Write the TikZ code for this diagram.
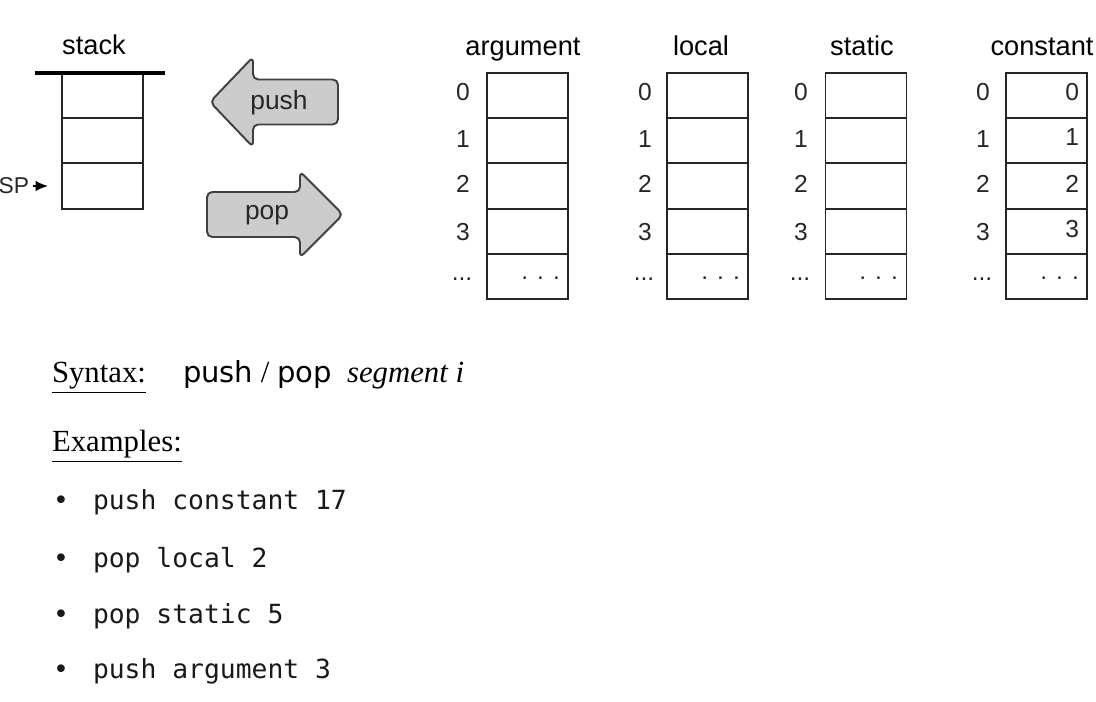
\documentclass[tikz,border=0pt]{standalone}
\usepackage{fontspec}
\setmainfont{Liberation Serif}
\setsansfont{Liberation Sans}
\setmonofont{DejaVu Sans Mono}
\newfontfamily\wordfont{DejaVu Sans}
\usetikzlibrary{arrows.meta}

\begin{document}
\begin{tikzpicture}[x=0.02cm, y=-0.02cm]
\tikzstyle{every node} = [inner sep=0pt, outer sep=0pt]
\tikzstyle{cell} = [draw=black!85, line width=1.1pt, minimum width=1.62cm, minimum height=0.904cm]
\tikzstyle{title} = [font=\sffamily\fontsize{15.5}{18}\selectfont, anchor=base]
\tikzstyle{idx} = [font=\sffamily\fontsize{14}{16}\selectfont, text=black!85]
\tikzstyle{val} = [font=\sffamily\fontsize{14}{16}\selectfont, text=black!85, anchor=east]
\tikzstyle{arrowbox} = [draw=black!75, fill=black!20, line width=1.1pt, rounded corners=3pt]
\tikzstyle{arrowtext} = [font=\sffamily\fontsize{15}{18}\selectfont, text=black!85, anchor=base]
\tikzstyle{code} = [font=\ttfamily\fontsize{15}{18}\selectfont, text=black!90, anchor=base west]
\tikzstyle{head} = [font=\fontsize{17.5}{21}\selectfont, anchor=base west]
\useasboundingbox (0,0) rectangle (1096,702);

\node[title] (tstack) at (94,55) {stack};
\node[cell] (s1) at (102.5,95.6) {};
\node[cell] (s2) at (102.5,140.8) {};
\node[cell] (s3) at (102.5,186) {};
\draw[line width=2.3pt] (35,73) -- (165,73);
\node[idx, font=\sffamily\fontsize{13}{15}\selectfont, anchor=east] (sp) at (29,186) {SP};
\draw[-{Latex[length=7pt,width=6pt]}, line width=1pt, shorten <=2pt, shorten >=8pt] (sp.east) -- (s3.west);

\draw[arrowbox] (210,102) -- (253,57) -- (253,79.5) -- (338,79.5) -- (338,124.5) -- (253,124.5) -- (253,147) -- cycle;
\node[arrowtext] (tpush) at (279,110) {push};
\draw[arrowbox] (343,214.5) -- (300,257.5) -- (300,237) -- (207,237) -- (207,192) -- (300,192) -- (300,171.5) -- cycle;
\node[arrowtext] (tpop) at (267,220) {pop};

\node[title] (targ) at (523,56) {argument};
\node[cell] (a0) at (527.5,95.6) {};
\node[cell] (a1) at (527.5,140.8) {};
\node[cell] (a2) at (527.5,186) {};
\node[cell] (a3) at (527.5,231.2) {};
\node[cell] (a4) at (527.5,276.4) {};
\node[idx] (na0) at (463,92.5) {0};
\node[idx] (na1) at (463,139) {1};
\node[idx] (na2) at (463,184) {2};
\node[idx] (na3) at (463,232) {3};
\node[idx] (na4) at (462,279) {...};
\node[val] (va4) at (560,278) {. . .};

\node[title] (tloc) at (701,56) {local};
\node[cell] (l0) at (707.5,95.6) {};
\node[cell] (l1) at (707.5,140.8) {};
\node[cell] (l2) at (707.5,186) {};
\node[cell] (l3) at (707.5,231.2) {};
\node[cell] (l4) at (707.5,276.4) {};
\node[idx] (nl0) at (645,92.5) {0};
\node[idx] (nl1) at (645,139) {1};
\node[idx] (nl2) at (645,184) {2};
\node[idx] (nl3) at (645,232) {3};
\node[idx] (nl4) at (644,279) {...};
\node[val] (vl4) at (740,278) {. . .};

\node[title] (tsta) at (862,56) {static};
\node[cell] (t0) at (866,95.6) {};
\node[cell] (t1) at (866,140.8) {};
\node[cell] (t2) at (866,186) {};
\node[cell] (t3) at (866,231.2) {};
\node[cell] (t4) at (866,276.4) {};
\node[idx] (nt0) at (801,92.5) {0};
\node[idx] (nt1) at (801,139) {1};
\node[idx] (nt2) at (801,184) {2};
\node[idx] (nt3) at (801,232) {3};
\node[idx] (nt4) at (800,279) {...};
\node[val] (vt4) at (898,278) {. . .};

\node[title] (tcon) at (1042,56) {constant};
\node[cell] (c0) at (1046.5,95.6) {};
\node[cell] (c1) at (1046.5,140.8) {};
\node[cell] (c2) at (1046.5,186) {};
\node[cell] (c3) at (1046.5,231.2) {};
\node[cell] (c4) at (1046.5,276.4) {};
\node[idx] (nc0) at (983,92.5) {0};
\node[idx] (nc1) at (983,139) {1};
\node[idx] (nc2) at (983,184) {2};
\node[idx] (nc3) at (983,232) {3};
\node[idx] (nc4) at (982,279) {...};
\node[val] (vc0) at (1079,92.5) {0};
\node[val] (vc1) at (1079,137.5) {1};
\node[val] (vc2) at (1079,183.5) {2};
\node[val] (vc3) at (1079,229.5) {3};
\node[val] (vc4) at (1079,278) {. . .};

\node[head] (syn) at (52,383) {\underline{Syntax:}};
\node[head] (form) at (183,383) {{\wordfont\fontsize{16.5}{19}\selectfont push} / {\wordfont\fontsize{16.5}{19}\selectfont pop}\enspace\textit{segment i}};
\node[head] (ex) at (52,452) {\underline{Examples:}};

\node[code] (b1) at (53,510) {•};
\node[code] (e1) at (93,510) {push constant 17};
\node[code] (b2) at (53,567) {•};
\node[code] (e2) at (93,567) {pop local 2};
\node[code] (b3) at (53,623) {•};
\node[code] (e3) at (93,623) {pop static 5};
\node[code] (b4) at (53,678) {•};
\node[code] (e4) at (93,678) {push argument 3};
\end{tikzpicture}
\end{document}
